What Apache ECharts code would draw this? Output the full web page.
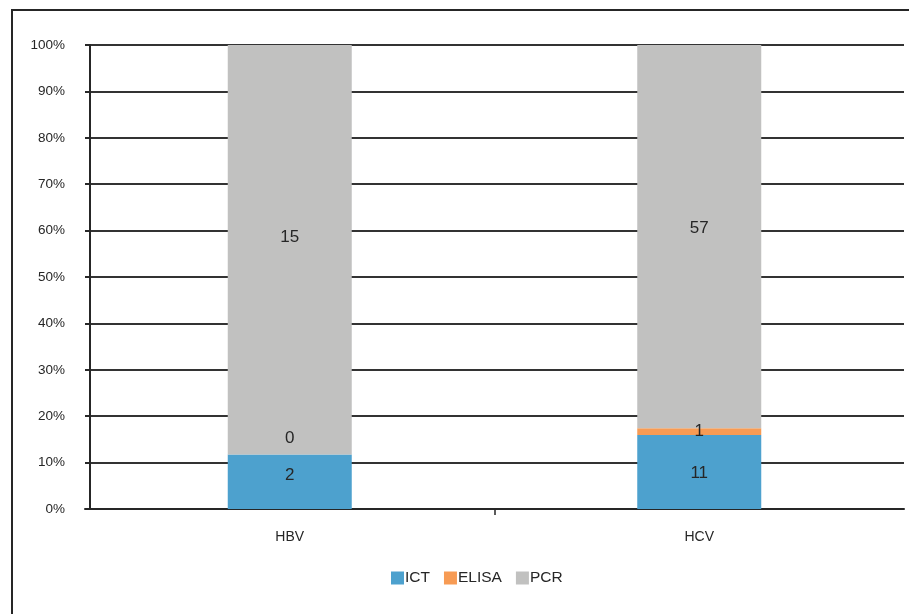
<!DOCTYPE html>
<html>
<head>
<meta charset="utf-8">
<script src="https://cdn.jsdelivr.net/npm/echarts@6/dist/echarts.min.js"></script>
<style>
  html, body { margin: 0; padding: 0; background: #fff; }
  #chart { width: 909px; height: 614px; }
</style>
</head>
<body>
<div id="chart"></div>
<script>
// raw counts per test
var categories = ["HBV", "HCV"];
var ict = [2, 11];
var elisa = [0, 1];
var pcr = [15, 57];
var yTicks = [0, 10, 20, 30, 40, 50, 60, 70, 80, 90, 100];

var totals = categories.map(function (c, i) { return ict[i] + elisa[i] + pcr[i]; });
function pct(arr) {
  return arr.map(function (v, i) { return v / totals[i] * 100; });
}

function makeSeries(name, raw, color, labelOffsets) {
  var p = pct(raw);
  return {
    name: name,
    type: "bar",
    stack: "all",
    barWidth: 124,
    itemStyle: { color: color },
    label: {
      show: true,
      position: "inside",
      color: "#262626",
      fontSize: 17,
      fontFamily: "Liberation Sans",
      formatter: function (params) { return raw[params.dataIndex]; }
    },
    data: p.map(function (v, i) {
      var item = { value: v };
      if (labelOffsets && labelOffsets[i]) {
        item.label = { offset: labelOffsets[i] };
      }
      return item;
    })
  };
}

var chart = echarts.init(document.getElementById("chart"));
chart.setOption({
  animation: false,
  textStyle: { fontFamily: "Liberation Sans" },
  graphic: [
    {
      type: "rect",
      shape: { x: 12, y: 10, width: 1000, height: 700 },
      style: { fill: "none", stroke: "#262626", lineWidth: 2 }
    }
  ],
  grid: { left: 85, right: 5, top: 45, bottom: 105 },
  legend: {
    bottom: 23,
    left: 386,
    itemWidth: 13,
    itemHeight: 13,
    itemGap: 14,
    icon: "rect",
    textStyle: { fontSize: 15.5, color: "#262626", padding: [0, 0, 0, -4] },
    data: ["ICT", "ELISA", "PCR"]
  },
  xAxis: [
    {
      type: "category",
      data: categories,
      axisLine: { lineStyle: { color: "#262626", width: 2 } },
      axisTick: { show: false },
      axisLabel: { color: "#262626", fontSize: 14, margin: 21 }
    },
    {
      // only carries the single divider tick between the two groups
      type: "value",
      position: "bottom",
      min: 0,
      max: 2,
      axisLine: { show: false },
      axisLabel: { show: false },
      splitLine: { show: false },
      axisTick: {
        show: true,
        length: 6,
        customValues: [1],
        lineStyle: { color: "#262626", width: 1.5 }
      }
    }
  ],
  yAxis: {
    type: "value",
    min: 0,
    max: 100,
    interval: 10,
    offset: -5,
    axisLine: { show: true, lineStyle: { color: "#262626", width: 2 } },
    axisTick: { show: true, inside: false, length: 5, lineStyle: { color: "#262626", width: 1.5 } },
    axisLabel: {
      color: "#262626",
      fontSize: 13.5,
      margin: 25,
      formatter: function (v) { return yTicks.indexOf(v) >= 0 ? v + "%" : ""; }
    },
    splitLine: { show: true, lineStyle: { color: "#333333", width: 2 } }
  },
  series: [
    makeSeries("ICT", ict, "#4DA1CE", [[0, -6], [0, 1]]),
    makeSeries("ELISA", elisa, "#F79B54", [[0, -16], [0, 0]]),
    makeSeries("PCR", pcr, "#C1C1C0", [[0, -12], [0, -8]])
  ]
});
</script>
</body>
</html>
